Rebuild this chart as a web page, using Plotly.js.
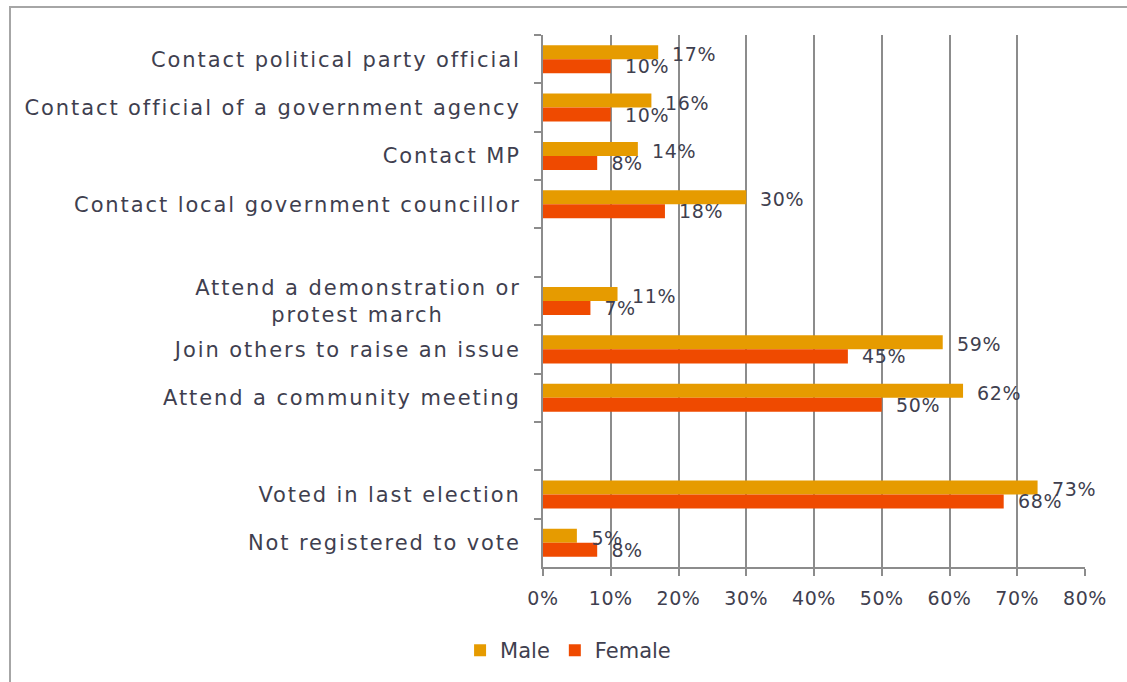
<!DOCTYPE html>
<html>
<head>
<meta charset="utf-8">
<script src="https://cdn.plot.ly/plotly-3.0.1.min.js"></script>
<style>
  html, body { margin: 0; padding: 0; background: #fff; }
  #wrap { position: relative; width: 1127px; height: 682px; }
  #chart { position: absolute; left: 0; top: 0; width: 1127px; height: 682px; }
  #chart g.ytick text { letter-spacing: 1.9px; }
  #chart g.xtick text, #chart g.annotation text { letter-spacing: 0.6px; }
  #frame { position: absolute; left: 9px; top: 6px; width: 1130px; height: 690px;
           border-left: 2px solid #a6a6a6; border-top: 2px solid #a6a6a6; pointer-events: none; }
</style>
</head>
<body>
<div id="wrap">
  <div id="chart"></div>
  <div id="frame"></div>
</div>
<script>
// Category slots (blank strings are spacer rows in the original chart)
const categories = [
  "Contact political party official",
  "Contact official of a government agency",
  "Contact MP",
  "Contact local government councillor",
  " ",
  "Attend a demonstration or<br>protest march\u00A0\u00A0\u00A0\u00A0\u00A0\u00A0\u00A0\u00A0\u00A0",
  "Join others to raise an issue",
  "Attend a community meeting",
  "  ",
  "Voted in last election",
  "Not registered to vote"
];
const maleValues   = [0.17, 0.16, 0.14, 0.30, null, 0.11, 0.59, 0.62, null, 0.73, 0.05];
const femaleValues = [0.10, 0.10, 0.08, 0.18, null, 0.07, 0.45, 0.50, null, 0.68, 0.08];
const xTickValues = [0, 0.1, 0.2, 0.3, 0.4, 0.5, 0.6, 0.7, 0.8];
const xTickLabels = ["0%", "10%", "20%", "30%", "40%", "50%", "60%", "70%", "80%"];

const maleColor = "#E69B00";
const femaleColor = "#EF4A00";
const textColor = "#3f3f4f";
const fontFamily = "'DejaVu Sans', sans-serif";

const traces = [
  { type: "bar", orientation: "h", name: "Male", y: categories, x: maleValues,
    marker: { color: maleColor }, hoverinfo: "skip" },
  { type: "bar", orientation: "h", name: "Female", y: categories, x: femaleValues,
    marker: { color: femaleColor }, hoverinfo: "skip" }
];

const annotations = [];
function addLabels(vals, yshift) {
  vals.forEach((v, i) => {
    if (v === null) return;
    annotations.push({
      x: v, y: categories[i], xref: "x", yref: "y",
      text: Math.round(v * 100) + "%", showarrow: false,
      xanchor: "left", yanchor: "middle", xshift: 13, yshift: yshift,
      font: { family: fontFamily, size: 19, color: textColor }
    });
  });
}
addLabels(maleValues, 5);
addLabels(femaleValues, -7);

const layout = {
  width: 1127, height: 682,
  margin: { l: 543, r: 42, t: 35, b: 114, pad: 0 },
  paper_bgcolor: "rgba(0,0,0,0)", plot_bgcolor: "rgba(0,0,0,0)",
  barmode: "group", bargap: 0.42, bargroupgap: 0,
  font: { family: fontFamily, size: 19, color: textColor },
  showlegend: true,
  legend: { orientation: "h", x: -0.153, xanchor: "left", y: -0.155, yanchor: "middle",
            font: { family: fontFamily, size: 21, color: textColor },
            itemwidth: 30, tracegroupgap: 0, traceorder: "normal" },
  xaxis: {
    range: [0, 0.8], tickvals: xTickValues, ticktext: xTickLabels,
    showgrid: true, gridcolor: "#8c8c8c", gridwidth: 2,
    showline: true, linecolor: "#8c8c8c", linewidth: 2,
    ticks: "outside", ticklen: 7, tickcolor: "#8c8c8c", tickwidth: 2,
    tickfont: { family: fontFamily, size: 19, color: textColor },
    ticklabelstandoff: 6,
    zeroline: false, fixedrange: true
  },
  yaxis: {
    type: "category", categoryorder: "array", categoryarray: categories,
    autorange: "reversed",
    showline: true, linecolor: "#8c8c8c", linewidth: 2,
    ticks: "outside", tickson: "boundaries", ticklen: 7, tickcolor: "#8c8c8c", tickwidth: 2,
    tickfont: { family: fontFamily, size: 21, color: textColor },
    ticklabelstandoff: 16,
    showgrid: false, zeroline: false, fixedrange: true
  },
  annotations: annotations
};

Plotly.newPlot("chart", traces, layout, { displayModeBar: false, staticPlot: true });
</script>
</body>
</html>
